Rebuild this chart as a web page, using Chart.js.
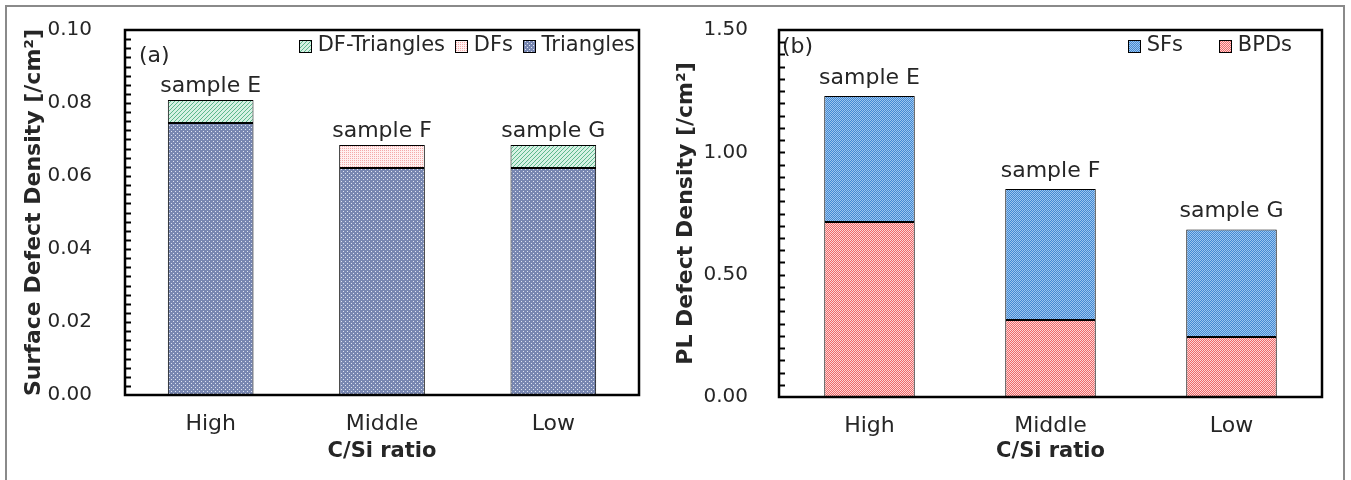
<!DOCTYPE html>
<html>
<head>
<meta charset="utf-8">
<script src="https://cdn.jsdelivr.net/npm/chart.js@4"></script>
<style>
  html, body { margin: 0; padding: 0; background: #fff; }
  #wrap { position: relative; width: 1351px; height: 480px; overflow: hidden; }
  #frame { position: absolute; left: 5px; top: 5px; width: 1336px; height: 490px; border: 2px solid #8a8a8a; border-bottom: none; pointer-events: none; }
  canvas { position: absolute; top: 0; }
</style>
</head>
<body>
<div id="wrap">
  <canvas id="surf-chart" width="655" height="480" style="left:0"></canvas>
  <canvas id="pl-chart" width="696" height="480" style="left:655px"></canvas>
  <div id="frame"></div>
</div>
<script>
const categories = ['High', 'Middle', 'Low'];
const sampleNames = ['sample E', 'sample F', 'sample G'];

// (a) surface defect density [/cm2]
const surfTriangles   = [0.0745, 0.0622, 0.0622];
const surfDFs         = [null, 0.0063, null];
const surfDFTriangles = [0.0063, null, 0.0063];
const surfTicks = [0, 0.02, 0.04, 0.06, 0.08, 0.10];
const surfMinor = 0.0025;

// (b) PL defect density [/cm2]
const plBPDs = [0.715, 0.315, 0.245];
const plSFs  = [0.515, 0.535, 0.44];
const plTicks = [0, 0.5, 1.0, 1.5];
const plMinor = 0.05;

const FONT = "'DejaVu Sans', Verdana, sans-serif";
const TEXT = '#262626';
Chart.defaults.font.family = FONT;
Chart.defaults.color = TEXT;

// small pixel tiles used as hatch fills
function makePattern(w, h, bg, fg, pts) {
  const c = document.createElement('canvas');
  c.width = w; c.height = h;
  const g = c.getContext('2d');
  g.fillStyle = bg; g.fillRect(0, 0, w, h);
  g.fillStyle = fg;
  pts.forEach(([x, y]) => g.fillRect(x, y, 1, 1));
  return g.createPattern(c, 'repeat');
}
const fills = {
  triangles: makePattern(4, 4, '#7887b1', '#dfe4f1', [[1, 1], [3, 3]]),
  dfTri: makePattern(4, 4, '#d6f1e4', '#5cb88d', [[0, 3], [1, 2], [2, 1], [3, 0]]),
  dfs: makePattern(4, 4, '#fff0f0', '#f4a9a9', [[0, 0], [2, 2], [2, 0], [0, 2]]),
  sfs: makePattern(2, 2, '#9cc6f0', '#4489d2', [[0, 0], [1, 1]]),
  bpds: makePattern(4, 4, '#fdd6d6', '#ee6868', [[0, 0], [1, 1], [2, 0], [3, 1], [0, 2], [1, 3], [2, 2], [3, 3]])
};

// box, inner ticks, legend, sample labels, panel tag
const decor = {
  id: 'decor',
  afterDatasetsDraw(chart, args, opts) {
    const { ctx, chartArea: a, scales: { x, y } } = chart;
    ctx.save();
    ctx.font = '22px ' + FONT;
    ctx.fillStyle = TEXT;
    ctx.textAlign = 'center';
    ctx.textBaseline = 'alphabetic';
    categories.forEach((c, i) => {
      const total = chart.data.datasets.reduce((s, d) => s + (d.data[i] || 0), 0);
      ctx.fillText(sampleNames[i], x.getPixelForValue(i), y.getPixelForValue(total) - opts.labelGap);
    });

    ctx.textAlign = 'left';
    ctx.textBaseline = 'middle';
    ctx.fillText(opts.tag, a.left + opts.tagX, opts.tagY);

    ctx.font = '21px ' + FONT;
    let cur = a.right - opts.legendRight;
    opts.legendOrder.slice().reverse().forEach(idx => {
      const ds = chart.data.datasets[idx];
      const w = ctx.measureText(ds.label).width;
      const tx = cur - w;
      ctx.fillStyle = TEXT;
      ctx.fillText(ds.label, tx, opts.legendY);
      const bx = Math.round(tx - 6 - 13);
      const by = Math.round(opts.legendY - 6.5);
      ctx.fillStyle = ds.backgroundColor;
      ctx.fillRect(bx, by, 13, 13);
      ctx.strokeStyle = '#000';
      ctx.lineWidth = 1;
      ctx.strokeRect(bx + 0.5, by + 0.5, 12, 12);
      cur = bx - opts.legendGap;
    });

    ctx.strokeStyle = '#000';
    ctx.lineWidth = 2.5;
    ctx.strokeRect(a.left, a.top, a.width, a.height);

    ctx.lineWidth = 2;
    const n = Math.round((y.max - y.min) / opts.minor);
    for (let i = 1; i < n; i++) {
      const py = Math.round(y.getPixelForValue(y.min + i * opts.minor)) + 0.5;
      ctx.beginPath();
      ctx.moveTo(a.left, py);
      ctx.lineTo(a.left + 6, py);
      ctx.stroke();
    }
    ctx.restore();
  }
};

function makeChart(id, cfg) {
  return new Chart(document.getElementById(id), {
    type: 'bar',
    data: { labels: categories, datasets: cfg.datasets },
    plugins: [decor],
    options: {
      responsive: false,
      animation: false,
      layout: { padding: { top: 30, right: cfg.padRight, left: 0, bottom: 0 } },
      datasets: { bar: { categoryPercentage: 1, barPercentage: 0.5, borderColor: '#000', borderWidth: 1, borderSkipped: false } },
      plugins: {
        legend: { display: false },
        tooltip: { enabled: false },
        decor: cfg.decor
      },
      scales: {
        x: {
          stacked: true,
          grid: { display: false, drawTicks: false },
          border: { display: false },
          ticks: { padding: 16, font: { size: 22 }, color: TEXT },
          title: { display: true, text: 'C/Si ratio', font: { size: 21, weight: 'bold' }, color: TEXT, padding: { top: 0, bottom: 16 } },
          afterFit: s => { s.height = cfg.xHeight; }
        },
        y: {
          stacked: true,
          min: cfg.ticks[0],
          max: cfg.ticks[cfg.ticks.length - 1],
          grid: { display: false, drawTicks: false },
          border: { display: false },
          ticks: { stepSize: cfg.ticks[1] - cfg.ticks[0], padding: cfg.tickPad, font: { size: 20 }, color: TEXT, callback: v => v.toFixed(2) },
          title: { display: true, text: cfg.yTitle, font: { size: 22, weight: 'bold' }, color: TEXT, padding: { top: cfg.titlePad, bottom: 0 } },
          afterFit: s => { s.width = cfg.yWidth; s.paddingTop = 0; s.paddingBottom = 0; }
        }
      }
    }
  });
}

makeChart('surf-chart', {
  datasets: [
    { label: 'Triangles', data: surfTriangles, backgroundColor: fills.triangles },
    { label: 'DFs', data: surfDFs, backgroundColor: fills.dfs },
    { label: 'DF-Triangles', data: surfDFTriangles, backgroundColor: fills.dfTri }
  ],
  ticks: surfTicks,
  yTitle: 'Surface Defect Density [/cm²]',
  yWidth: 125, tickPad: 33, titlePad: 21,
  xHeight: 85, padRight: 16,
  decor: { minor: surfMinor, labelGap: 8, tag: '(a)', tagX: 14, tagY: 56,
           legendOrder: [2, 1, 0], legendRight: 4, legendGap: 10, legendY: 46 }
});

makeChart('pl-chart', {
  datasets: [
    { label: 'BPDs', data: plBPDs, backgroundColor: fills.bpds },
    { label: 'SFs', data: plSFs, backgroundColor: fills.sfs }
  ],
  ticks: plTicks,
  yTitle: 'PL Defect Density [/cm²]',
  yWidth: 124, tickPad: 31, titlePad: 18,
  xHeight: 83, padRight: 29,
  decor: { minor: plMinor, labelGap: 12, tag: '(b)', tagX: 3, tagY: 47,
           legendOrder: [1, 0], legendRight: 30, legendGap: 36, legendY: 46 }
});
</script>
</body>
</html>
